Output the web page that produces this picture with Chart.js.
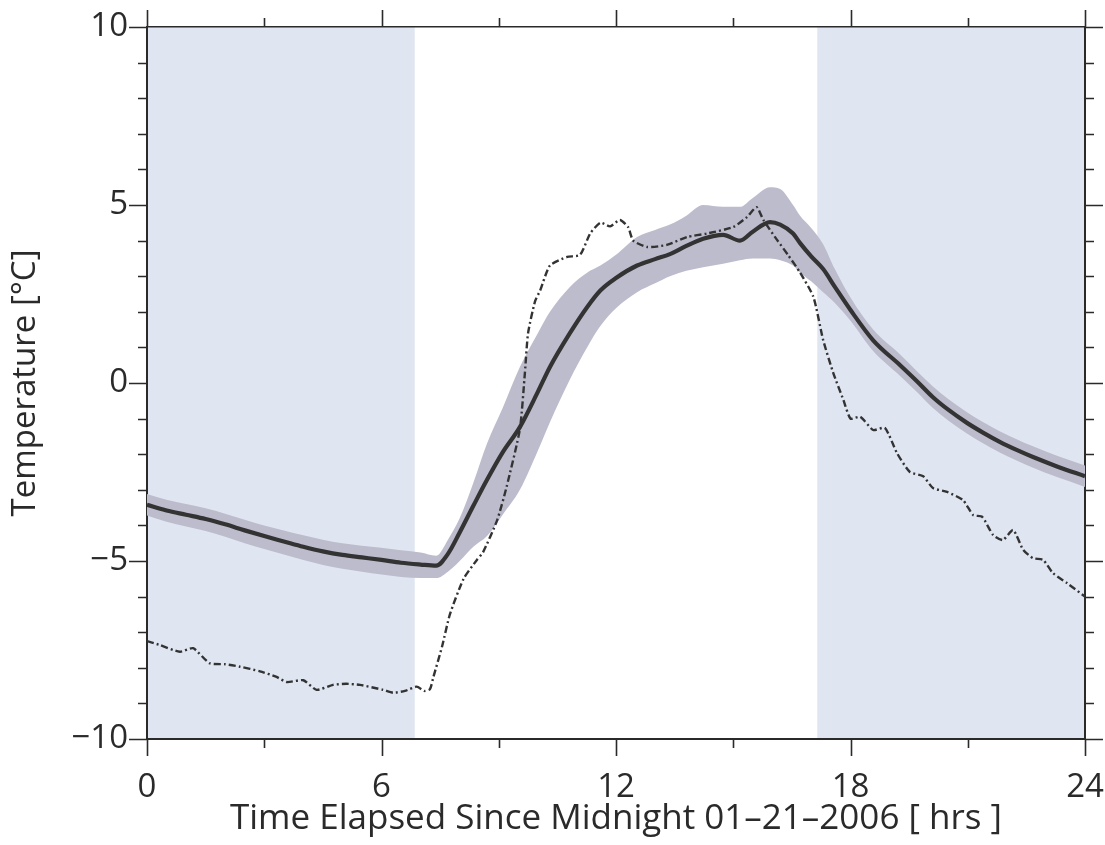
<!DOCTYPE html>
<html>
<head>
<meta charset="utf-8">
<script src="https://cdn.jsdelivr.net/npm/chart.js@4.4.1/dist/chart.umd.min.js"></script>
<style>
  html, body { margin: 0; padding: 0; background: #ffffff; }
  #wrap { width: 1105px; height: 845px; }
</style>
</head>
<body>
<div id="wrap"><canvas id="c" width="1105" height="845"></canvas></div>
<script>
// ---- data ----
const meanHours = [0,0.5,1,1.5,2,2.5,3,3.5,4,4.5,5,5.5,6,6.5,7,7.4,7.7,8.0,8.35,8.7,9.1,9.54,10.0,10.31,10.82,11.26,11.6,12.0,12.54,13.0,13.38,13.8,14.23,14.74,15.17,15.5,15.94,16.2,16.53,16.71,17.0,17.3,17.6,18.0,18.58,19.27,19.7,20.11,20.5,20.98,21.4,21.83,22.25,22.67,23.3,24];
const meanTemp = [-3.42,-3.58,-3.7,-3.82,-3.97,-4.14,-4.3,-4.45,-4.6,-4.73,-4.83,-4.9,-4.97,-5.05,-5.1,-5.13,-4.8,-4.2,-3.45,-2.72,-1.95,-1.24,-0.25,0.45,1.4,2.13,2.6,2.95,3.3,3.48,3.62,3.85,4.05,4.16,4.0,4.25,4.52,4.45,4.2,3.93,3.55,3.2,2.7,2.05,1.2,0.5,0.05,-0.4,-0.75,-1.12,-1.4,-1.66,-1.88,-2.08,-2.35,-2.62];
const bandUpper = [-3.12,-3.28,-3.4,-3.52,-3.67,-3.84,-4.0,-4.14,-4.28,-4.4,-4.5,-4.57,-4.63,-4.7,-4.76,-4.85,-4.4,-3.8,-2.8,-1.7,-0.7,0.45,1.4,2.0,2.7,3.1,3.3,3.6,4.1,4.3,4.45,4.7,5.0,4.95,4.95,5.2,5.5,5.45,5.0,4.7,4.35,3.9,3.2,2.4,1.5,0.8,0.33,-0.1,-0.45,-0.82,-1.1,-1.36,-1.58,-1.78,-2.05,-2.32];
const bandLower = [-3.72,-3.9,-4.03,-4.16,-4.32,-4.5,-4.66,-4.82,-4.97,-5.11,-5.22,-5.3,-5.38,-5.45,-5.48,-5.48,-5.3,-5.0,-4.6,-4.3,-3.7,-3.0,-1.9,-1.1,0.1,1.0,1.6,2.1,2.55,2.8,3.0,3.15,3.25,3.35,3.45,3.5,3.5,3.45,3.3,3.1,2.85,2.55,2.25,1.75,0.9,0.2,-0.25,-0.7,-1.05,-1.42,-1.7,-1.96,-2.18,-2.38,-2.65,-2.92];

const stationHours = [0,0.3,0.84,1.18,1.6,2.0,2.38,2.89,3.3,3.58,4.0,4.34,4.76,5.1,5.45,6.04,6.3,6.6,6.9,7.1,7.24,7.33,7.55,7.75,8.1,8.44,8.6,8.96,9.2,9.54,9.67,9.75,9.93,10.06,10.31,10.75,11.08,11.34,11.6,11.85,12.1,12.31,12.44,12.8,13.3,13.82,14.33,15.0,15.35,15.6,15.77,16.12,16.4,16.71,17.05,17.3,17.56,17.82,18.0,18.25,18.58,18.88,19.19,19.52,19.86,20.11,20.47,20.88,21.14,21.37,21.65,21.9,22.16,22.42,22.67,22.93,23.18,23.54,24.0];
const stationTemp = [-7.25,-7.35,-7.55,-7.45,-7.87,-7.9,-7.97,-8.1,-8.25,-8.4,-8.35,-8.62,-8.48,-8.45,-8.48,-8.62,-8.7,-8.65,-8.53,-8.65,-8.6,-8.25,-7.4,-6.5,-5.5,-4.97,-4.75,-3.85,-2.92,-1.3,0.3,1.4,2.3,2.6,3.3,3.54,3.6,4.2,4.5,4.4,4.58,4.38,4.0,3.82,3.88,4.1,4.2,4.38,4.66,4.94,4.58,4.02,3.6,3.1,2.42,1.21,0.28,-0.48,-1.0,-0.95,-1.32,-1.26,-1.97,-2.5,-2.62,-2.95,-3.06,-3.29,-3.71,-3.76,-4.27,-4.41,-4.13,-4.69,-4.92,-4.97,-5.34,-5.62,-6.0];

const nightSpans = [[0, 6.85], [17.15, 24]];
const xTickValues = [0, 6, 12, 18, 24];
const xTickLabels = ['0', '6', '12', '18', '24'];
const xMinorValues = [3, 9, 15, 21];
const yTickValues = [-10, -5, 0, 5, 10];
const yTickLabels = ['\u221210', '\u22125', '0', '5', '10'];
const yMinorValues = [-9,-8,-7,-6,-4,-3,-2,-1,1,2,3,4,6,7,8,9];
const xTitle = 'Time Elapsed Since Midnight 01\u201321\u20132006 [ hrs ]';
const yTitle = 'Temperature [\u00b0C]';

// ---- styling ----
const FONT = "'Open Sans', 'Noto Sans', sans-serif";
const INK = '#2a2a2a';
const toXY = (xs, ys) => xs.map((x, i) => ({x: x, y: ys[i]}));
const noPad = s => { s.paddingLeft = 0; s.paddingRight = 0; s.paddingTop = 0; s.paddingBottom = 0; };

const backgroundPlugin = {
  id: 'nightShade',
  beforeDraw(chart) {
    const {ctx, chartArea, scales} = chart;
    ctx.save();
    ctx.fillStyle = '#ffffff';
    ctx.fillRect(0, 0, chart.width, chart.height);
    ctx.fillStyle = '#dfe6f2';
    nightSpans.forEach(([a, b]) => {
      const x0 = scales.x.getPixelForValue(a);
      const x1 = scales.x.getPixelForValue(b);
      ctx.fillRect(x0, chartArea.top, x1 - x0, chartArea.bottom - chartArea.top);
    });
    ctx.restore();
  }
};

const tickPlugin = {
  id: 'frameTicks',
  afterDraw(chart) {
    const {ctx, chartArea, scales} = chart;
    const {left, right, top, bottom} = chartArea;
    ctx.save();
    ctx.strokeStyle = INK;
    ctx.lineWidth = 1.6;
    ctx.beginPath();
    const xt = (v, len) => {
      const px = Math.round(scales.x.getPixelForValue(v)) + 0.5;
      ctx.moveTo(px, bottom); ctx.lineTo(px, bottom + len);
      ctx.moveTo(px, top); ctx.lineTo(px, top - len);
    };
    const yt = (v, len) => {
      const py = Math.round(scales.y.getPixelForValue(v)) + 0.5;
      ctx.moveTo(left, py); ctx.lineTo(left - len, py);
      ctx.moveTo(right, py); ctx.lineTo(right + len, py);
    };
    xTickValues.forEach(v => xt(v, 17));
    xMinorValues.forEach(v => xt(v, 9));
    yTickValues.forEach(v => yt(v, 18));
    yMinorValues.forEach(v => yt(v, 9));
    ctx.stroke();
    ctx.restore();
  }
};

new Chart(document.getElementById('c'), {
  type: 'scatter',
  data: {
    datasets: [
      { label: 'upper', data: toXY(meanHours, bandUpper), showLine: true, fill: '+1',
        backgroundColor: '#bdbccd', borderWidth: 0, borderColor: 'rgba(0,0,0,0)', pointRadius: 0,
        cubicInterpolationMode: 'monotone', order: 4 },
      { label: 'lower', data: toXY(meanHours, bandLower), showLine: true, fill: false,
        borderWidth: 0, borderColor: 'rgba(0,0,0,0)', pointRadius: 0, cubicInterpolationMode: 'monotone', order: 3 },
      { label: 'station', data: toXY(stationHours, stationTemp), showLine: true, fill: false,
        borderColor: '#333333', borderWidth: 2.4, borderDash: [7, 3, 2, 3], pointRadius: 0, tension: 0.2, order: 2 },
      { label: 'mean', data: toXY(meanHours, meanTemp), showLine: true, fill: false,
        borderColor: '#333333', borderWidth: 4.2, pointRadius: 0, cubicInterpolationMode: 'monotone', order: 1 }
    ]
  },
  options: {
    responsive: false,
    animation: false,
    layout: { padding: 0, autoPadding: false },
    plugins: { legend: { display: false }, tooltip: { enabled: false } },
    scales: {
      x: {
        type: 'linear', position: 'bottom', min: 0, max: 24,
        afterBuildTicks: s => { s.ticks = xTickValues.map(v => ({value: v})); },
        afterFit: s => { s.height = 106; noPad(s); },
        grid: { drawOnChartArea: false, drawTicks: false },
        border: { display: true, color: INK, width: 2 },
        ticks: { padding: 29, color: INK, font: { family: FONT, size: 33 },
                 callback: (v) => xTickLabels[xTickValues.indexOf(v)] },
        title: { display: true, text: xTitle, color: INK, font: { family: FONT, size: 35 }, padding: { top: 0, bottom: 5 } }
      },
      x2: {
        type: 'linear', position: 'top', min: 0, max: 24,
        afterFit: s => { s.height = 27; noPad(s); },
        grid: { drawOnChartArea: false, drawTicks: false },
        border: { display: true, color: INK, width: 1.6 },
        ticks: { display: false }
      },
      y: {
        type: 'linear', position: 'left', min: -10, max: 10,
        afterBuildTicks: s => { s.ticks = yTickValues.map(v => ({value: v})); },
        afterFit: s => { s.width = 147; noPad(s); },
        grid: { drawOnChartArea: false, drawTicks: false },
        border: { display: true, color: INK, width: 2 },
        ticks: { padding: 19, color: INK, font: { family: FONT, size: 33 },
                 callback: (v) => yTickLabels[yTickValues.indexOf(v)] },
        title: { display: true, text: yTitle, color: INK, font: { family: FONT, size: 33 }, padding: { top: 6, bottom: 0 } }
      },
      y2: {
        type: 'linear', position: 'right', min: -10, max: 10,
        afterFit: s => { s.width = 20; noPad(s); },
        grid: { drawOnChartArea: false, drawTicks: false },
        border: { display: true, color: INK, width: 2 },
        ticks: { display: false }
      }
    }
  },
  plugins: [backgroundPlugin, tickPlugin]
});
</script>
</body>
</html>
